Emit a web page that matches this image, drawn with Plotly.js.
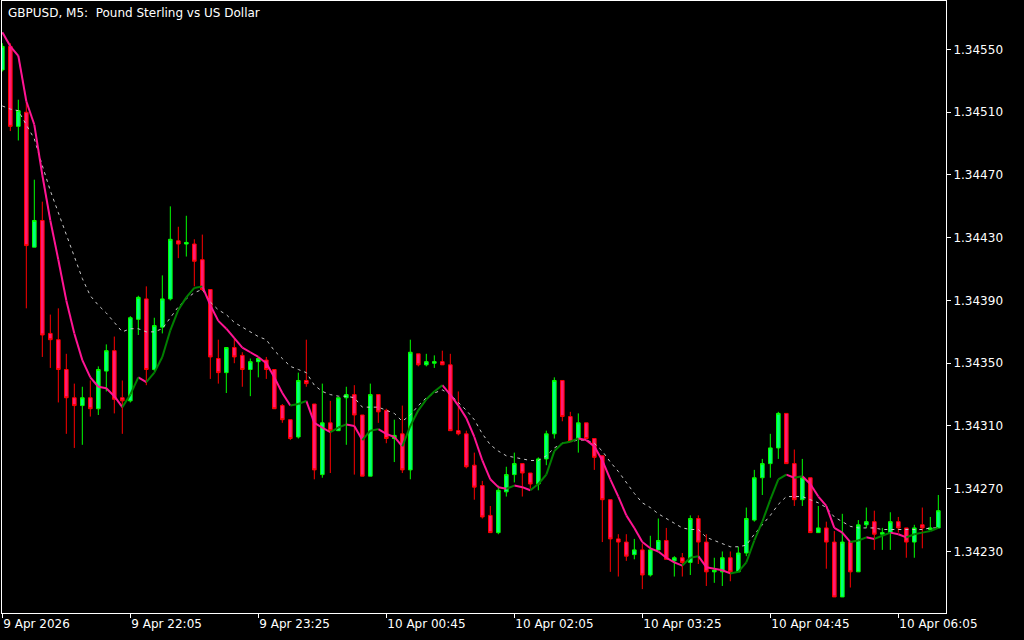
<!DOCTYPE html>
<html><head><meta charset="utf-8">
<script src="https://cdn.plot.ly/plotly-3.0.1.min.js"></script>
<style>html,body{margin:0;padding:0;background:#000;overflow:hidden}#chart{width:1024px;height:640px}</style>
</head><body><div id="chart"></div>
<script>
const chartTitle = "GBPUSD, M5:\u00A0 Pound Sterling vs US Dollar";

const openP = [1.34537,1.34552,1.34501,1.34510,1.34424,1.34441,1.34369,1.34365,1.34346,1.34328,
1.34323,1.34328,1.34321,1.34345,1.34358,1.34328,1.34326,1.34378,1.34391,1.34346,
1.34373,1.34391,1.34428,1.34426,1.34426,1.34416,1.34397,1.34353,1.34344,1.34360,
1.34355,1.34346,1.34351,1.34352,1.34346,1.34323,1.34314,1.34303,1.34339,1.34324,
1.34279,1.34312,1.34307,1.34328,1.34330,1.34317,1.34278,1.34330,1.34320,1.34302,
1.34305,1.34282,1.34356,1.34349,1.34350,1.34351,1.34349,1.34307,1.34305,1.34285,
1.34272,1.34253,1.34242,1.34268,1.34279,1.34286,1.34280,1.34273,1.34289,1.34305,
1.34339,1.34316,1.34302,1.34312,1.34302,1.34291,1.34263,1.34238,1.34236,1.34228,
1.34231,1.34215,1.34231,1.34237,1.34224,1.34226,1.34223,1.34251,1.34236,1.34217,
1.34217,1.34226,1.34217,1.34229,1.34250,1.34277,1.34286,1.34296,1.34318,1.34286,
1.34263,1.34277,1.34242,1.34245,1.34236,1.34201,1.34236,1.34217,1.34247,1.34249,
1.34241,1.34242,1.34249,1.34245,1.34236,1.34247,1.34244,1.34245];

const highP = [1.34554,1.34554,1.34518,1.34517,1.34467,1.34453,1.34381,1.34385,1.34356,1.34337,
1.34335,1.34339,1.34348,1.34362,1.34367,1.34339,1.34380,1.34393,1.34399,1.34379,
1.34406,1.34450,1.34437,1.34444,1.34429,1.34432,1.34397,1.34365,1.34360,1.34366,
1.34357,1.34353,1.34354,1.34354,1.34346,1.34324,1.34314,1.34344,1.34365,1.34324,
1.34337,1.34326,1.34328,1.34335,1.34336,1.34317,1.34337,1.34330,1.34321,1.34314,
1.34323,1.34365,1.34356,1.34356,1.34355,1.34358,1.34356,1.34332,1.34307,1.34293,
1.34275,1.34259,1.34272,1.34284,1.34293,1.34286,1.34280,1.34290,1.34307,1.34341,
1.34339,1.34319,1.34318,1.34312,1.34302,1.34291,1.34263,1.34241,1.34241,1.34238,
1.34235,1.34240,1.34251,1.34245,1.34227,1.34229,1.34253,1.34253,1.34241,1.34226,
1.34230,1.34230,1.34233,1.34258,1.34282,1.34289,1.34305,1.34319,1.34318,1.34295,
1.34289,1.34277,1.34259,1.34249,1.34243,1.34254,1.34236,1.34250,1.34258,1.34256,
1.34245,1.34255,1.34252,1.34245,1.34247,1.34258,1.34252,1.34266];

const lowP = [1.34536,1.34498,1.34492,1.34385,1.34424,1.34354,1.34347,1.34325,1.34305,1.34296,
1.34298,1.34316,1.34317,1.34332,1.34318,1.34305,1.34325,1.34368,1.34336,1.34345,
1.34369,1.34390,1.34417,1.34418,1.34399,1.34396,1.34340,1.34337,1.34331,1.34350,
1.34335,1.34329,1.34341,1.34340,1.34321,1.34312,1.34301,1.34302,1.34335,1.34276,
1.34277,1.34280,1.34307,1.34298,1.34279,1.34278,1.34278,1.34312,1.34299,1.34287,
1.34280,1.34276,1.34348,1.34348,1.34347,1.34349,1.34307,1.34304,1.34283,1.34263,
1.34251,1.34242,1.34241,1.34265,1.34274,1.34265,1.34270,1.34269,1.34285,1.34302,
1.34313,1.34300,1.34293,1.34302,1.34282,1.34236,1.34217,1.34214,1.34224,1.34225,
1.34206,1.34214,1.34231,1.34225,1.34214,1.34214,1.34215,1.34222,1.34208,1.34210,
1.34208,1.34211,1.34217,1.34227,1.34249,1.34266,1.34277,1.34289,1.34286,1.34259,
1.34259,1.34242,1.34242,1.34219,1.34201,1.34201,1.34207,1.34217,1.34245,1.34231,
1.34231,1.34231,1.34242,1.34226,1.34226,1.34232,1.34244,1.34245];

const closeP = [1.34552,1.34501,1.34511,1.34425,1.34441,1.34368,1.34365,1.34346,1.34328,1.34323,
1.34328,1.34321,1.34346,1.34358,1.34327,1.34326,1.34379,1.34392,1.34346,1.34374,
1.34391,1.34429,1.34426,1.34427,1.34415,1.34397,1.34354,1.34344,1.34360,1.34354,
1.34346,1.34351,1.34353,1.34346,1.34321,1.34314,1.34302,1.34339,1.34337,1.34282,
1.34312,1.34307,1.34328,1.34330,1.34317,1.34278,1.34330,1.34319,1.34302,1.34304,
1.34282,1.34357,1.34349,1.34351,1.34351,1.34349,1.34307,1.34305,1.34284,1.34271,
1.34252,1.34242,1.34269,1.34279,1.34286,1.34280,1.34273,1.34289,1.34305,1.34339,
1.34316,1.34300,1.34312,1.34302,1.34290,1.34263,1.34238,1.34236,1.34227,1.34231,
1.34215,1.34231,1.34237,1.34225,1.34226,1.34223,1.34251,1.34236,1.34217,1.34218,
1.34226,1.34217,1.34229,1.34251,1.34277,1.34286,1.34296,1.34318,1.34286,1.34263,
1.34277,1.34242,1.34245,1.34236,1.34201,1.34236,1.34217,1.34247,1.34249,1.34241,
1.34242,1.34249,1.34245,1.34236,1.34245,1.34245,1.34245,1.34256];

const fastMA = [1.34561,1.34552,1.34546,1.34517,1.34502,1.34470,1.34441,1.34416,1.34390,1.34369,
1.34352,1.34341,1.34335,1.34334,1.34329,1.34322,1.34330,1.34341,1.34338,1.34344,
1.34354,1.34371,1.34384,1.34392,1.34398,1.34399,1.34387,1.34377,1.34372,1.34366,
1.34360,1.34357,1.34354,1.34350,1.34341,1.34331,1.34323,1.34324,1.34326,1.34312,
1.34309,1.34306,1.34309,1.34311,1.34310,1.34301,1.34307,1.34308,1.34305,1.34303,
1.34297,1.34310,1.34320,1.34327,1.34332,1.34336,1.34330,1.34323,1.34315,1.34303,
1.34288,1.34276,1.34271,1.34270,1.34272,1.34271,1.34269,1.34273,1.34279,1.34294,
1.34299,1.34300,1.34302,1.34301,1.34297,1.34288,1.34276,1.34265,1.34253,1.34245,
1.34236,1.34232,1.34230,1.34226,1.34223,1.34221,1.34226,1.34227,1.34220,1.34219,
1.34218,1.34216,1.34217,1.34223,1.34237,1.34249,1.34263,1.34276,1.34279,1.34277,
1.34278,1.34273,1.34265,1.34259,1.34245,1.34242,1.34236,1.34237,1.34239,1.34238,
1.34240,1.34242,1.34241,1.34239,1.34241,1.34242,1.34243,1.34245];

const slowMA = [1.34514,1.34512,1.34511,1.34502,1.34493,1.34476,1.34460,1.34446,1.34432,1.34417,
1.34404,1.34393,1.34387,1.34382,1.34376,1.34370,1.34372,1.34372,1.34370,1.34370,
1.34372,1.34379,1.34386,1.34391,1.34395,1.34397,1.34389,1.34384,1.34381,1.34376,
1.34373,1.34370,1.34367,1.34365,1.34358,1.34353,1.34348,1.34346,1.34344,1.34336,
1.34332,1.34330,1.34329,1.34329,1.34328,1.34322,1.34322,1.34322,1.34320,1.34318,
1.34313,1.34317,1.34323,1.34328,1.34331,1.34333,1.34330,1.34325,1.34320,1.34314,
1.34305,1.34298,1.34294,1.34291,1.34290,1.34289,1.34288,1.34288,1.34291,1.34296,
1.34299,1.34300,1.34301,1.34301,1.34299,1.34294,1.34287,1.34281,1.34274,1.34267,
1.34261,1.34258,1.34254,1.34251,1.34248,1.34245,1.34244,1.34244,1.34239,1.34237,
1.34235,1.34233,1.34233,1.34234,1.34241,1.34247,1.34253,1.34260,1.34265,1.34265,
1.34265,1.34263,1.34261,1.34258,1.34252,1.34249,1.34246,1.34245,1.34245,1.34245,
1.34244,1.34244,1.34244,1.34244,1.34244,1.34244,1.34245,1.34245];

const timeTickBars = [0,16,32,48,64,80,96,112];
const timeTickLabels = ["9 Apr 2026","9 Apr 22:05","9 Apr 23:25","10 Apr 00:45","10 Apr 02:05","10 Apr 03:25","10 Apr 04:45","10 Apr 06:05"];
const priceTicks = [1.34230,1.34270,1.34310,1.34350,1.34390,1.34430,1.34470,1.34510,1.34550];

const barIdx = openP.map((_, i) => i);

function segments(vals, rising) {
  const xs = [], ys = [];
  for (let i = 1; i < vals.length; i++) {
    const up = vals[i] > vals[i - 1];
    if (up === rising) { xs.push(i - 1, i, null); ys.push(vals[i - 1], vals[i], null); }
  }
  return {xs, ys};
}
const upSeg = segments(fastMA, true);
const dnSeg = segments(fastMA, false);

const FONT = 'DejaVu Sans, sans-serif';
const traces = [
  {type:'candlestick', x:barIdx, open:openP, high:highP, low:lowP, close:closeP,
   increasing:{line:{color:'#00FF00', width:1}, fillcolor:'#00FF7F'},
   decreasing:{line:{color:'#FF0000', width:1}, fillcolor:'#FF1A75'},
   whiskerwidth:0, hoverinfo:'skip', showlegend:false},
  {type:'scatter', mode:'lines', x:barIdx, y:slowMA, line:{color:'#C8C8C8', width:1, dash:'3px,4px'}, hoverinfo:'skip'},
  {type:'scatter', mode:'lines', x:dnSeg.xs, y:dnSeg.ys, connectgaps:false, line:{color:'#FF1493', width:2}, hoverinfo:'skip'},
  {type:'scatter', mode:'lines', x:upSeg.xs, y:upSeg.ys, connectgaps:false, line:{color:'#008000', width:2}, hoverinfo:'skip'}
];

const layout = {
  width:1024, height:640,
  paper_bgcolor:'#000', plot_bgcolor:'#000',
  margin:{l:2, r:78, t:1, b:27, pad:0},
  showlegend:false,
  boxgap:0.35,
  font:{family:FONT, size:12, color:'#FFFFFF'},
  xaxis:{range:[-0.04, 117.96], tickmode:'array', tickvals:timeTickBars, ticktext:timeTickLabels,
    ticks:'outside', ticklen:4, tickwidth:1, tickcolor:'#FFFFFF', ticklabelposition:'outside right',
    showline:true, mirror:true, linecolor:'#FFFFFF', linewidth:1, showgrid:false, zeroline:false,
    tickfont:{family:FONT, size:12, color:'#FFFFFF'}, rangeslider:{visible:false}, fixedrange:true},
  yaxis:{side:'right', range:[1.3419077, 1.3458092], tickmode:'array', tickvals:priceTicks,
    ticktext:priceTicks.map(v => v.toFixed(5)),
    ticks:'outside', ticklen:4, tickwidth:1, tickcolor:'#FFFFFF',
    showline:true, mirror:true, linecolor:'#FFFFFF', linewidth:1, showgrid:false, zeroline:false,
    tickfont:{family:FONT, size:12, color:'#FFFFFF'}, fixedrange:true},
  annotations:[{text:chartTitle, xref:'paper', yref:'paper', x:0, y:1, xanchor:'left', yanchor:'middle',
    xshift:4, yshift:-12, showarrow:false, font:{family:FONT, size:12, color:'#FFFFFF'}}]
};

Plotly.newPlot('chart', traces, layout, {staticPlot:true, displayModeBar:false});
</script>
</body></html>
